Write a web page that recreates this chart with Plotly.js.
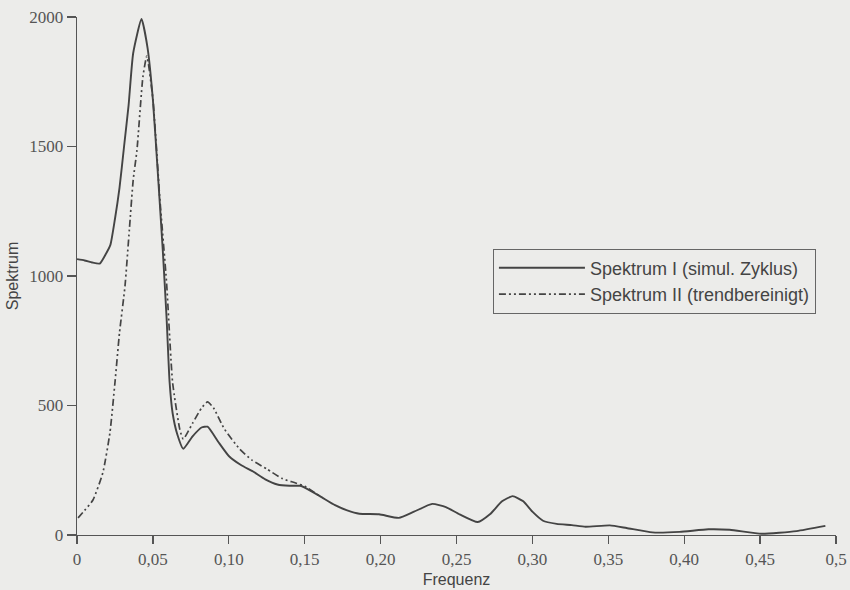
<!DOCTYPE html>
<html>
<head>
<meta charset="utf-8">
<script src="https://cdn.plot.ly/plotly-3.0.1.min.js"></script>
<style>
html,body{margin:0;padding:0;background:#ececea;}
#chart{width:850px;height:590px;}
</style>
</head>
<body>
<div id="chart"></div>
<script>
// Spektrum I (simul. Zyklus)
const freqI = [0, 0.005, 0.010, 0.015, 0.019, 0.022, 0.025, 0.028, 0.031, 0.034, 0.037, 0.0425, 0.0465, 0.050, 0.053, 0.0565, 0.059, 0.061, 0.063, 0.066, 0.070, 0.076, 0.082, 0.086, 0.093, 0.100, 0.108, 0.116, 0.124, 0.132, 0.140, 0.147, 0.150, 0.160, 0.170, 0.178, 0.186, 0.199, 0.212, 0.222, 0.234, 0.243, 0.252, 0.264, 0.272, 0.280, 0.287, 0.294, 0.300, 0.307, 0.316, 0.326, 0.335, 0.351, 0.362, 0.379, 0.397, 0.416, 0.430, 0.451, 0.474, 0.493];
const spekI = [1065, 1060, 1052, 1048, 1085, 1120, 1220, 1340, 1500, 1660, 1860, 1992, 1880, 1680, 1420, 1100, 840, 590, 470, 390, 333, 380, 415, 418, 360, 305, 270, 245, 215, 195, 190, 190, 183, 150, 115, 95, 82, 80, 66, 90, 120, 108, 80, 50, 80, 130, 150, 130, 90, 55, 43, 38, 32, 37, 27, 10, 12, 22, 20, 5, 15, 35];

// Spektrum II (trendbereinigt)
const freqII = [0.0007, 0.005, 0.0105, 0.017, 0.0217, 0.025, 0.028, 0.0316, 0.0345, 0.037, 0.0395, 0.0434, 0.046, 0.050, 0.0546, 0.059, 0.063, 0.0678, 0.070, 0.076, 0.082, 0.086, 0.090, 0.097, 0.107, 0.115, 0.125, 0.1355, 0.144, 0.150, 0.160];
const spekII = [66, 95, 135, 240, 395, 588, 781, 960, 1180, 1370, 1486, 1768, 1849, 1683, 1296, 975, 588, 406, 370, 430, 490, 514, 490, 410, 333, 290, 255, 217, 201, 188, 150];

const xTickVals = [0, 0.05, 0.10, 0.15, 0.20, 0.25, 0.30, 0.35, 0.40, 0.45, 0.5];
const xTickText = ['0', '0,05', '0,10', '0,15', '0,20', '0,25', '0,30', '0,35', '0,40', '0,45', '0,5'];
const yTickVals = [0, 500, 1000, 1500, 2000];
const yTickText = ['0', '500', '1000', '1500', '2000'];

const lineCol = '#444444';
const traces = [
  {x: freqI, y: spekI, type: 'scatter', mode: 'lines', name: 'Spektrum I (simul. Zyklus)',
   line: {color: lineCol, width: 1.9, shape: 'spline', smoothing: 0.5}},
  {x: freqII, y: spekII, type: 'scatter', mode: 'lines', name: 'Spektrum II (trendbereinigt)',
   line: {color: lineCol, width: 1.7, dash: '7px,3px,2px,3px,2px,3px', shape: 'spline', smoothing: 0.5}}
];

const layout = {
  width: 850, height: 590,
  paper_bgcolor: '#ececea', plot_bgcolor: 'rgba(0,0,0,0)',
  margin: {l: 77, r: 14, t: 17, b: 55},
  showlegend: true,
  legend: {x: 0.548, y: 0.553, xanchor: 'left', yanchor: 'top',
           bgcolor: 'rgba(0,0,0,0)', bordercolor: '#666', borderwidth: 1,
           font: {family: 'Liberation Sans, Arial, sans-serif', size: 18, color: '#444'},
           itemwidth: 86, tracegroupgap: 0},
  xaxis: {range: [0, 0.5], tickvals: xTickVals, ticktext: xTickText,
          showgrid: false, zeroline: false, showline: true, linecolor: '#555', linewidth: 1.3,
          ticks: 'outside', ticklen: 8, tickcolor: '#555', tickwidth: 1.3,
          tickfont: {family: 'Liberation Serif, Times New Roman, serif', size: 17, color: '#555'},
          title: {text: 'Frequenz', standoff: 6, font: {family: 'Liberation Sans, Arial, sans-serif', size: 16, color: '#444'}}},
  yaxis: {range: [0, 2000], tickvals: yTickVals, ticktext: yTickText,
          showgrid: false, zeroline: false, showline: true, linecolor: '#555', linewidth: 1.3,
          ticks: 'outside', ticklen: 9, tickcolor: '#555', tickwidth: 1.3,
          tickfont: {family: 'Liberation Serif, Times New Roman, serif', size: 17, color: '#555'},
          title: {text: 'Spektrum', standoff: 6, font: {family: 'Liberation Sans, Arial, sans-serif', size: 16, color: '#444'}}}
};

Plotly.newPlot('chart', traces, layout, {displayModeBar: false, staticPlot: true});
</script>
</body>
</html>
